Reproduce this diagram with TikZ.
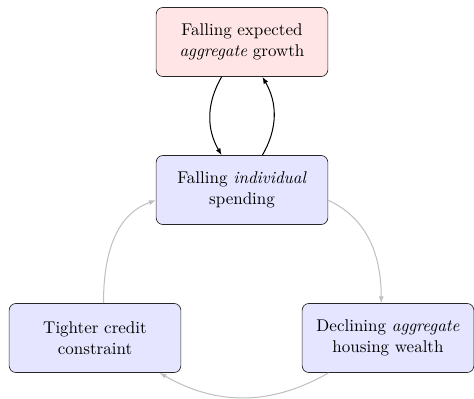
\documentclass[tikz,border=0pt]{standalone}
\usetikzlibrary{arrows.meta}
\begin{document}
\begin{tikzpicture}[x=0.5882pt,y=-0.5882pt,
  box/.style={draw=black!85, rounded corners=4pt, align=center, minimum width=101pt, minimum height=40.6pt, inner sep=2pt},
  redbox/.style={box, fill=red!10},
  bluebox/.style={box, fill=blue!10},
  blk/.style={semithick, -{Latex[length=4pt,width=3pt]}},
  gry/.style={black!25, semithick, -{Latex[length=4pt,width=3pt]}}]
\useasboundingbox (0,0) rectangle (474,398);
\node[redbox] (top) at (242,42) {Falling expected\\ \emph{aggregate} growth};
\node[bluebox] (mid) at (242,190) {Falling \emph{individual}\\ spending};
\node[bluebox] (left) at (95,338) {Tighter credit\\ constraint};
\node[bluebox] (right) at (388,338) {Declining \emph{aggregate}\\ housing wealth};
\draw[blk] ([xshift=-12pt]top.south) to[bend right=30] ([xshift=-12pt]mid.north);
\draw[blk] ([xshift=12pt]mid.north) to[bend right=30] ([xshift=12pt]top.south);
\draw[gry] ([yshift=-6pt]mid.east) to[out=-25,in=90] ([xshift=-4pt]right.north);
\draw[gry] ([xshift=-35pt]right.south) to[out=-150,in=-30] ([xshift=38pt]left.south);
\draw[gry] ([xshift=5pt]left.north) to[out=90,in=-160] ([yshift=-6pt]mid.west);
\end{tikzpicture}
\end{document}
